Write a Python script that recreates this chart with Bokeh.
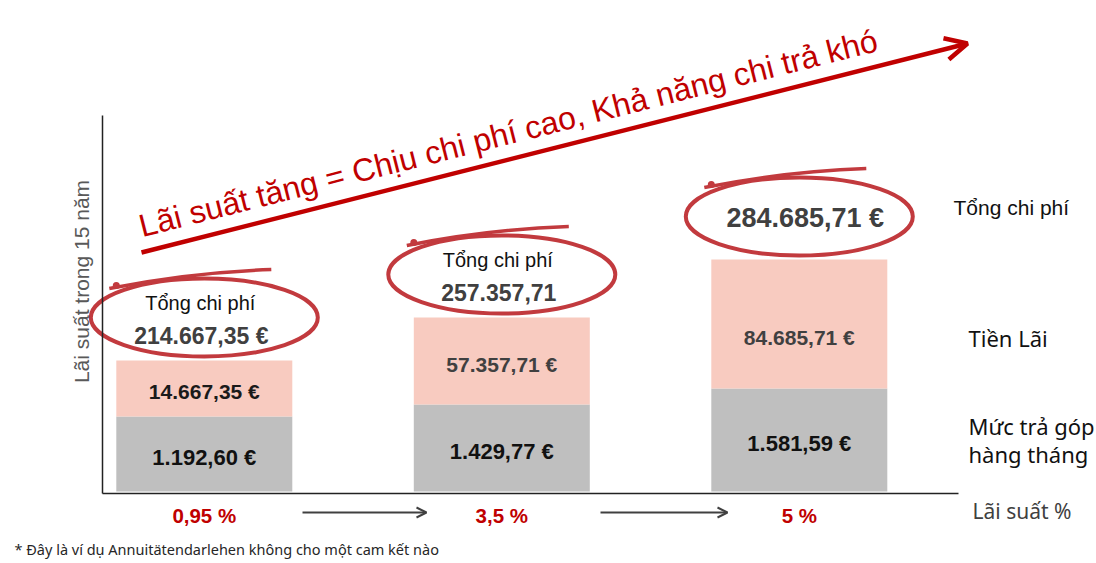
import math
from bokeh.plotting import figure
from bokeh.models import (Range1d, FixedTicker, Label, Arrow, OpenHead,
                          ColumnDataSource)
from bokeh.embed import file_html
from bokeh.resources import INLINE

# ---------------- data ----------------
rate_labels = ["0,95 %", "3,5 %", "5 %"]
monthly_labels = ["1.192,60 €", "1.429,77 €", "1.581,59 €"]
interest_labels = ["14.667,35 €", "57.357,71 €", "84.685,71 €"]
total_labels = ["214.667,35 €", "257.357,71", "284.685,71 €"]
# segment heights as drawn in the picture (arbitrary units)
monthly_height = [75, 87, 103]
interest_height = [56, 87, 129]

title_text = "Lãi suất tăng = Chịu chi phí cao, Khả năng chi trả khó"
y_title = "Lãi suất trong 15 năm"
footnote = "* Đây là ví dụ Annuitätendarlehen không cho một cam kết nào"

# ---------------- layout helpers (pixel -> data) ----------------
W, H = 1096, 563
X0, SX, Y0 = 203.8, 297.5, 491.0


def dx(px):
    return (px - X0) / SX


def dy(py):
    return Y0 - py


idx = list(range(len(rate_labels)))
total_height = [m + i for m, i in zip(monthly_height, interest_height)]

src = ColumnDataSource(dict(
    x=idx,
    monthly=monthly_height,
    total=total_height,
))

p = figure(width=W, height=H, output_backend="svg", toolbar_location=None,
           tools="", x_range=Range1d(dx(0), dx(W)),
           y_range=Range1d(dy(H), dy(0)),
           min_border=0, min_border_left=0, min_border_right=0,
           min_border_top=0, min_border_bottom=0)
p.outline_line_color = None
p.grid.visible = False
p.background_fill_color = "white"
p.border_fill_color = "white"

RED = "#C00000"
ELL = "#C23A3E"
ARIAL = "Liberation Sans"
SANS = "Noto Sans"

# ---------------- axes ----------------
xa = p.xaxis[0]
xa.fixed_location = dy(493)
xa.bounds = (dx(102), dx(958))
xa.ticker = FixedTicker(ticks=idx)
xa.major_label_overrides = {i: lab for i, lab in enumerate(rate_labels)}
xa.major_tick_in = 0
xa.major_tick_out = 0
xa.minor_tick_line_color = None
xa.major_tick_line_color = None
xa.axis_line_color = "#222222"
xa.axis_line_width = 1.5
xa.major_label_text_font = ARIAL
xa.major_label_text_font_style = "bold"
xa.major_label_text_font_size = "20.5px"
xa.major_label_text_color = RED
xa.major_label_standoff = 10

ya = p.yaxis[0]
ya.fixed_location = dx(102)
ya.bounds = (dy(493), dy(115))
ya.ticker = FixedTicker(ticks=[])
ya.major_tick_line_color = None
ya.minor_tick_line_color = None
ya.major_label_text_font_size = "0px"
ya.axis_line_color = "#222222"
ya.axis_line_width = 1.5

# ---------------- bars ----------------
bar_w = 176 / SX
p.vbar(x="x", bottom=0, top="monthly", width=bar_w, source=src,
       fill_color="#BFBFBF", line_color=None)
p.vbar(x="x", bottom="monthly", top="total", width=bar_w, source=src,
       fill_color="#F8CBC0", line_color=None)

# labels inside bars
for i in idx:
    p.add_layout(Label(x=i, y=monthly_height[i] / 2, y_offset=-3,
                       text=monthly_labels[i], text_align="center",
                       text_baseline="middle", text_font=ARIAL,
                       text_font_style="bold", text_font_size="22px",
                       text_color="#111111"))
    p.add_layout(Label(x=i, y=monthly_height[i] + interest_height[i] / 2,
                       y_offset=-3 if i < 2 else -13,
                       text=interest_labels[i], text_align="center",
                       text_baseline="middle", text_font=ARIAL,
                       text_font_style="bold", text_font_size="21px",
                       text_color="#1a1a1a" if i == 0 else "#404040"))

# ---------------- hand-drawn ellipses with totals ----------------
ell_y = [t + 43 for t in total_height]
p.ellipse(x=idx, y=ell_y, width=227, height=78, width_units="screen",
          height_units="screen", fill_color=None, line_color=ELL,
          line_width=4)
p.quadratic(x0=[i + dx(X0 - 95) for i in idx], y0=[e + 29 for e in ell_y],
            x1=[i + dx(X0 + 67) for i in idx], y1=[e + 48 for e in ell_y],
            cx=[i + dx(X0 - 15) for i in idx], cy=[e + 45 for e in ell_y],
            line_color=ELL, line_width=3.5)
p.scatter(x=[i + dx(X0 - 88) for i in idx], y=[e + 32 for e in ell_y],
          size=7, marker="circle", fill_color=ELL, line_color=None)

for i in idx:
    if i < 2:
        p.add_layout(Label(x=i, y=ell_y[i], y_offset=15, x_offset=-4,
                           text="Tổng chi phí", text_align="center",
                           text_baseline="middle", text_font=ARIAL,
                           text_font_size="20px", text_color="#111111"))
        p.add_layout(Label(x=i, y=ell_y[i], y_offset=-18, x_offset=-3,
                           text=total_labels[i], text_align="center",
                           text_baseline="middle", text_font=ARIAL,
                           text_font_style="bold", text_font_size="23px",
                           text_color="#404040"))
    else:
        p.add_layout(Label(x=i, y=ell_y[i], y_offset=-1, x_offset=6,
                           text=total_labels[i], text_align="center",
                           text_baseline="middle", text_font=ARIAL,
                           text_font_style="bold", text_font_size="27px",
                           text_color="#404040"))

# ---------------- title arrow ----------------
ang = math.atan2(209, 826)
p.add_layout(Label(x=dx(139), y=dy(226), text=title_text, angle=ang,
                   text_align="left", text_baseline="alphabetic",
                   text_font=ARIAL, text_font_size="32px", text_color=RED))
p.add_layout(Arrow(x_start=dx(141), y_start=dy(252), x_end=dx(967),
                   y_end=dy(43), line_color=RED, line_width=4.5,
                   end=OpenHead(size=22, line_color=RED, line_width=4.5)))

# small arrows between rate labels
for a, b in [(302, 426), (600, 727)]:
    p.add_layout(Arrow(x_start=dx(a), y_start=dy(512), x_end=dx(b),
                       y_end=dy(512), line_color="#404040", line_width=2,
                       end=OpenHead(size=10, line_color="#404040",
                                    line_width=2)))

# ---------------- side texts ----------------
p.add_layout(Label(x=dx(81), y=dy(281), text=y_title, angle=math.pi / 2,
                   text_align="center", text_baseline="middle",
                   text_font=ARIAL, text_font_size="21px",
                   text_color="#595959"))
p.add_layout(Label(x=dx(953), y=dy(207), text="Tổng chi phí",
                   text_align="left", text_baseline="middle",
                   text_font=ARIAL, text_font_size="21px",
                   text_color="#111111"))
p.add_layout(Label(x=dx(968), y=dy(337), text="Tiền Lãi",
                   text_align="left", text_baseline="middle",
                   text_font=SANS, text_font_size="22px",
                   text_color="#111111"))
p.add_layout(Label(x=dx(968), y=dy(425), text="Mức trả góp",
                   text_align="left", text_baseline="middle",
                   text_font=SANS, text_font_size="22px",
                   text_color="#111111"))
p.add_layout(Label(x=dx(968), y=dy(453), text="hàng tháng",
                   text_align="left", text_baseline="middle",
                   text_font=SANS, text_font_size="22px",
                   text_color="#111111"))
p.add_layout(Label(x=dx(972), y=dy(510), text="Lãi suất %",
                   text_align="left", text_baseline="middle",
                   text_font=SANS, text_font_size="21px",
                   text_color="#404040"))
p.add_layout(Label(x=dx(14), y=dy(548), text=footnote,
                   text_align="left", text_baseline="middle",
                   text_font=SANS, text_font_size="14.5px",
                   text_color="#262626"))

open("out.html", "w").write(file_html(p, INLINE, title="chart"))
